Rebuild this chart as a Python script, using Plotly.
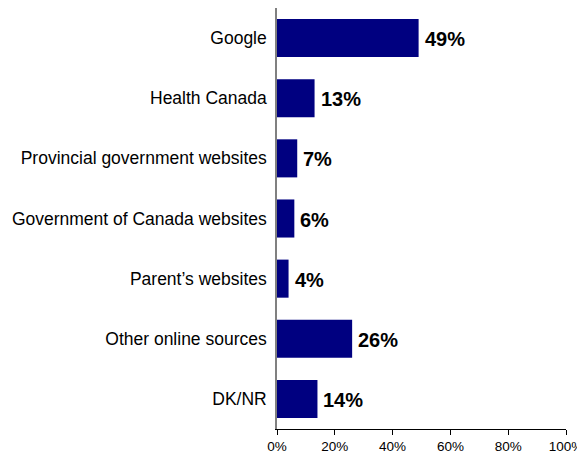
import plotly.graph_objects as go

categories = ["Google", "Health Canada", "Provincial government websites",
              "Government of Canada websites", "Parent\u2019s websites",
              "Other online sources", "DK/NR"]
values = [49, 13, 7, 6, 4, 26, 14]
x_ticks = [0, 20, 40, 60, 80, 100]
x_tick_labels = ["0%", "20%", "40%", "60%", "80%", "100%"]

FONT = "Liberation Sans, Arial, sans-serif"

fig = go.Figure(go.Bar(
    x=values,
    y=categories,
    orientation="h",
    marker=dict(color="#000080", line=dict(width=0)),
    hoverinfo="x+y",
))

for v, c in zip(values, categories):
    fig.add_annotation(
        x=v, y=c, text=f"{v}%", showarrow=False,
        xanchor="left", yanchor="middle", xshift=4, yshift=-1,
        font=dict(family=FONT, size=20, color="black", weight="bold"),
    )

# page body has an 8px default margin, so the figure is sized/offset accordingly
fig.update_layout(
    width=577, height=451,
    margin=dict(l=269, r=19, t=0, b=30, autoexpand=False),
    paper_bgcolor="white", plot_bgcolor="white",
    bargap=0.367,
    showlegend=False,
    font=dict(family=FONT, color="black"),
)
fig.update_xaxes(
    range=[0, 100],
    tickvals=x_ticks, ticktext=x_tick_labels,
    ticks="outside", ticklen=5, tickcolor="black", tickwidth=1,
    showline=True, linecolor="black", linewidth=1,
    showgrid=False, zeroline=False,
    tickfont=dict(size=13.5),
    automargin=False,
)
fig.update_yaxes(
    autorange="reversed",
    showline=True, linecolor="#808080", linewidth=1.5,
    ticks="", showgrid=False, zeroline=False,
    tickfont=dict(size=17.5),
    ticklabelstandoff=5,
    automargin=False,
)

fig.write_html("out.html")
